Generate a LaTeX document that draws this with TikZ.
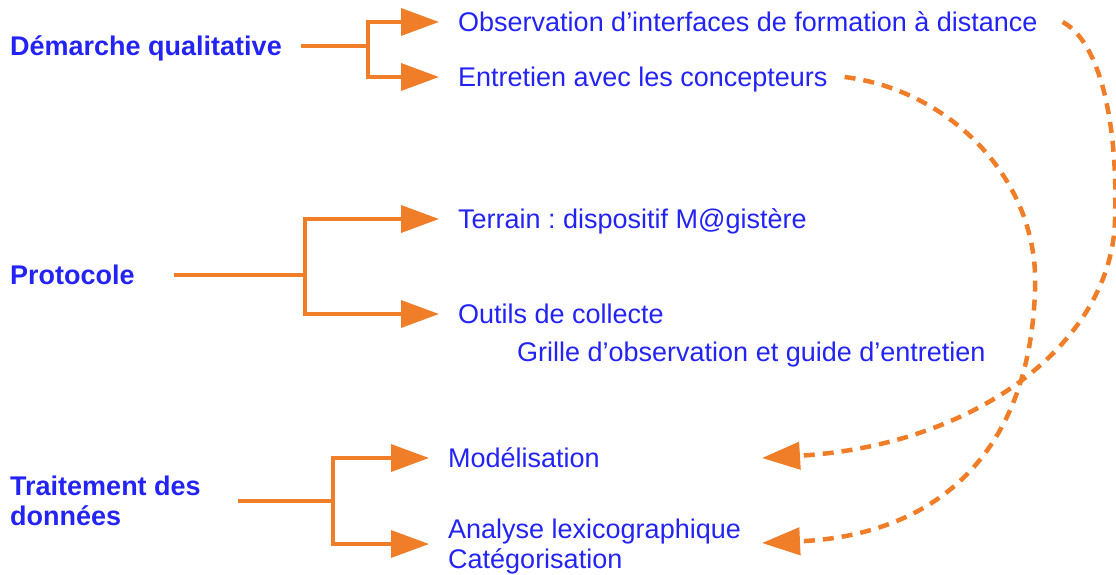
\documentclass[tikz,border=0pt]{standalone}
\usepackage{fontspec}
\setmainfont{Liberation Sans}
\usetikzlibrary{arrows.meta}
\definecolor{txtblue}{RGB}{35,35,245}
\definecolor{linkorange}{RGB}{240,125,40}
\frenchspacing

\begin{document}
\begin{tikzpicture}[x=1pt, y=-1pt,
        txt/.style={inner sep=0pt, anchor=west, color=txtblue, font=\fontsize{27}{30}\selectfont},
        oneline/.style={txt, text height=19.4pt, text depth=0pt},
        twolines/.style={txt, align=left},
        head/.style={oneline, font=\fontsize{27}{30}\selectfont\bfseries},
        heads/.style={twolines, font=\fontsize{27}{30}\selectfont\bfseries},
        branch/.style={draw=linkorange, line width=3.5pt},
        arrowline/.style={branch, shorten >=19pt, -{Triangle[length=38pt, width=27pt]}},
        backlink/.style={draw=linkorange, line width=4.5pt, dash pattern=on 11pt off 8pt, -{Triangle[length=38pt, width=27pt]}}]
        \useasboundingbox (0,0) rectangle (1116,574);

        \node[head] (1) at (10,46) {Démarche qualitative};
        \node[head] (2) at (10,275) {Protocole};
        \node[heads] (3) at (10,501) {Traitement des\\données};

        \node[oneline] (4) at (458,22) {Observation d’interfaces de formation à distance};
        \node[oneline] (5) at (458,77) {Entretien avec les concepteurs};
        \node[oneline] (6) at (458,219) {Terrain : dispositif M@gistère};
        \node[oneline] (7) at (458,314) {Outils de collecte};
        \node[oneline] (8) at (517,352) {Grille d’observation et guide d’entretien};
        \node[oneline] (9) at (448,458) {Modélisation};
        \node[twolines] (10) at (448,547) {Analyse lexicographique\\Catégorisation};

        \coordinate (j1) at (368,46);
        \coordinate (j2) at (305,275);
        \coordinate (j3) at (333,501);
        \coordinate (m) at (762,458);
        \coordinate (a) at (762,543);

        \draw[branch] ([xshift=19pt]1.east) -- (j1);
        \draw[arrowline] (j1) |- (4);
        \draw[arrowline] (j1) |- (5);

        \draw[branch] ([xshift=39pt]2.east) -- (j2);
        \draw[arrowline] (j2) |- (6);
        \draw[arrowline] (j2) |- (7);

        \draw[branch] ([xshift=37pt]3.east) -- (j3);
        \draw[arrowline] (j3) |- (9);
        \draw[arrowline] (j3) |- ([yshift=3pt]10.west);

        %(5) back to the data treatment
        \draw[backlink] ([xshift=25pt]4.east) .. controls (1105,45) and (1118,140) .. (1115,220) .. controls (1112,340) and (980,445) .. (m);
        \draw[backlink] ([xshift=17pt]5.east) .. controls (950,90) and (1040,180) .. (1035,290) .. controls (1030,450) and (940,535) .. (a);
    \end{tikzpicture}
\end{document}
